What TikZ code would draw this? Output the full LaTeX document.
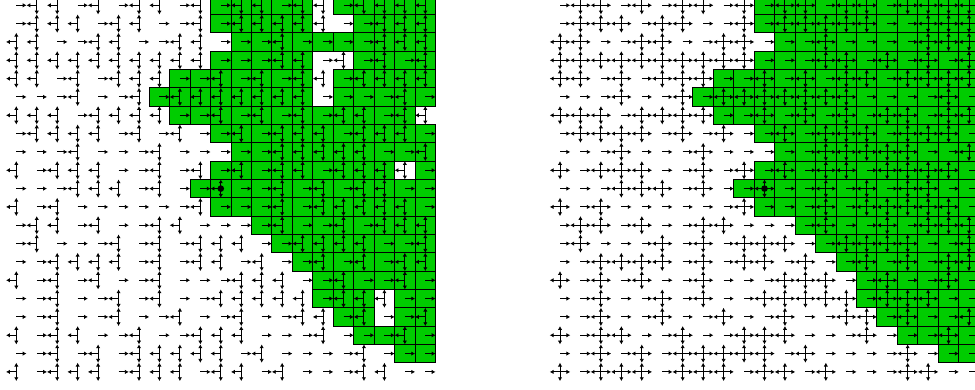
\documentclass[tikz,border=0pt]{standalone}
\usetikzlibrary{arrows.meta}
\definecolor{cellgreen}{RGB}{0,204,0}
\tikzset{
  cellbox/.style={fill=cellgreen,draw=black,line width=1pt},
  halfedge/.style={draw=black,line width=1pt,-{Latex[length=3.8pt,width=4.4pt]}},
  origindot/.style={circle,fill=black,inner sep=0pt,minimum size=6.6pt}
}
\newcommand{\typerows}{
{0,1,1,0,1,0,1,1,0,1,0,1,1,0,1,1,0,1,1,1,1},
{0,1,1,1,0,1,1,0,0,1,0,1,1,1,1,1,0,0,1,1,1},
{1,1,0,0,1,1,0,0,1,1,0,0,0,1,0,0,0,0,1,1,1},
{1,1,1,1,1,1,1,1,1,1,0,0,0,1,1,0,1,0,1,0,1},
{1,1,0,1,0,1,1,1,0,0,1,0,1,0,1,1,0,1,1,1,1},
{0,0,0,1,0,0,1,0,1,1,1,1,1,1,1,0,0,0,0,1,0},
{1,1,1,0,1,1,1,1,0,0,1,0,1,0,1,0,1,1,0,1,1},
{0,1,1,1,1,0,1,0,1,0,0,1,0,1,1,1,0,1,1,1,0},
{0,0,0,1,0,0,0,1,0,0,0,0,0,1,1,1,1,1,0,0,1},
{1,0,1,1,1,0,0,1,0,1,0,1,0,1,1,0,1,1,1,1,0},
{0,0,0,1,1,1,0,1,0,0,1,0,0,1,0,1,0,1,1,0,0},
{1,0,1,0,0,0,0,0,0,1,0,0,0,1,0,1,1,1,1,1,0},
{0,1,1,0,1,0,0,1,1,0,0,0,0,1,0,0,1,0,1,1,1},
{0,1,0,0,0,1,0,1,0,1,1,1,0,0,1,1,1,1,0,0,1},
{0,0,1,1,1,1,0,1,0,1,1,0,1,0,0,1,0,1,0,1,1},
{1,0,1,0,1,0,0,1,0,0,0,1,1,1,0,0,1,0,0,1,0},
{0,0,1,0,0,1,0,1,0,0,1,1,1,1,1,0,1,1,1,0,0},
{0,0,1,0,0,1,0,0,1,0,0,1,0,0,1,1,0,1,0,0,1},
{1,0,1,1,0,0,1,0,0,1,1,1,0,0,0,1,0,0,0,1,0},
{0,0,1,0,1,0,1,1,1,1,1,0,1,0,0,0,0,1,0,0,0},
{1,0,1,1,1,0,1,1,1,0,1,1,0,1,0,0,0,1,1,0,0}}
\begin{document}
\begin{tikzpicture}[x=1pt,y=-1pt]
\clip (0,0) rectangle (975,389);
\path[fill=white] (0,0) rectangle (975,389);
% green cells, left panel
\foreach \j/\a/\b in {0/10/14,0/16/20,1/10/14,1/17/20,2/11/20,3/10/14,3/17/20,4/8/14,4/16/20,5/7/14,5/16/20,6/8/19,7/10/20,8/11/20,9/10/18,9/20/20,10/9/20,11/10/20,12/12/20,13/13/20,14/14/20,15/15/20,16/15/17,16/19/20,17/16/17,17/19/20,18/17/20,19/19/20}{
  \foreach \i in {\a,...,\b}{
    \pgfmathsetmacro{\xc}{16.3+20.45*\i}
    \pgfmathsetmacro{\yc}{5.3+18.33*\j}
    \draw[cellbox] (\xc-10.22,\yc-9.16) rectangle (\xc+10.22,\yc+9.16);
  }
}
% green cells, right panel
\foreach \j/\a/\b in {0/10/20,1/10/20,2/11/20,3/10/20,4/8/20,5/7/20,6/8/20,7/10/20,8/11/20,9/10/20,10/9/20,11/10/20,12/12/20,13/13/20,14/14/20,15/15/20,16/15/20,17/16/20,18/17/20,19/19/20}{
  \foreach \i in {\a,...,\b}{
    \pgfmathsetmacro{\xc}{560+20.45*\i}
    \pgfmathsetmacro{\yc}{5.3+18.33*\j}
    \draw[cellbox] (\xc-10.22,\yc-9.16) rectangle (\xc+10.22,\yc+9.16);
  }
}
% half-edge arrows of both panels
\foreach \off/\both in {16.3/0,560/1}{
  \foreach \r [count=\j from 0] in \typerows {
    \foreach \t [count=\i from 0] in \r {
      \pgfmathsetmacro{\xc}{\off+20.45*\i}
      \pgfmathsetmacro{\yc}{5.3+18.33*\j}
      \ifnum\t=1
        \draw[halfedge] (\xc,\yc) -- (\xc-10.22,\yc);
        \draw[halfedge] (\xc,\yc) -- (\xc,\yc-9.16);
        \draw[halfedge] (\xc,\yc) -- (\xc,\yc+9.16);
        \ifnum\both=1
          \draw[halfedge] (\xc,\yc) -- (\xc+10.22,\yc);
        \fi
      \else
        \draw[halfedge] (\xc,\yc) -- (\xc+10.22,\yc);
      \fi
    }
  }
}
\node[origindot] (originL) at (220.8,188.6) {};
\node[origindot] (originR) at (764.5,188.6) {};
\end{tikzpicture}
\end{document}
